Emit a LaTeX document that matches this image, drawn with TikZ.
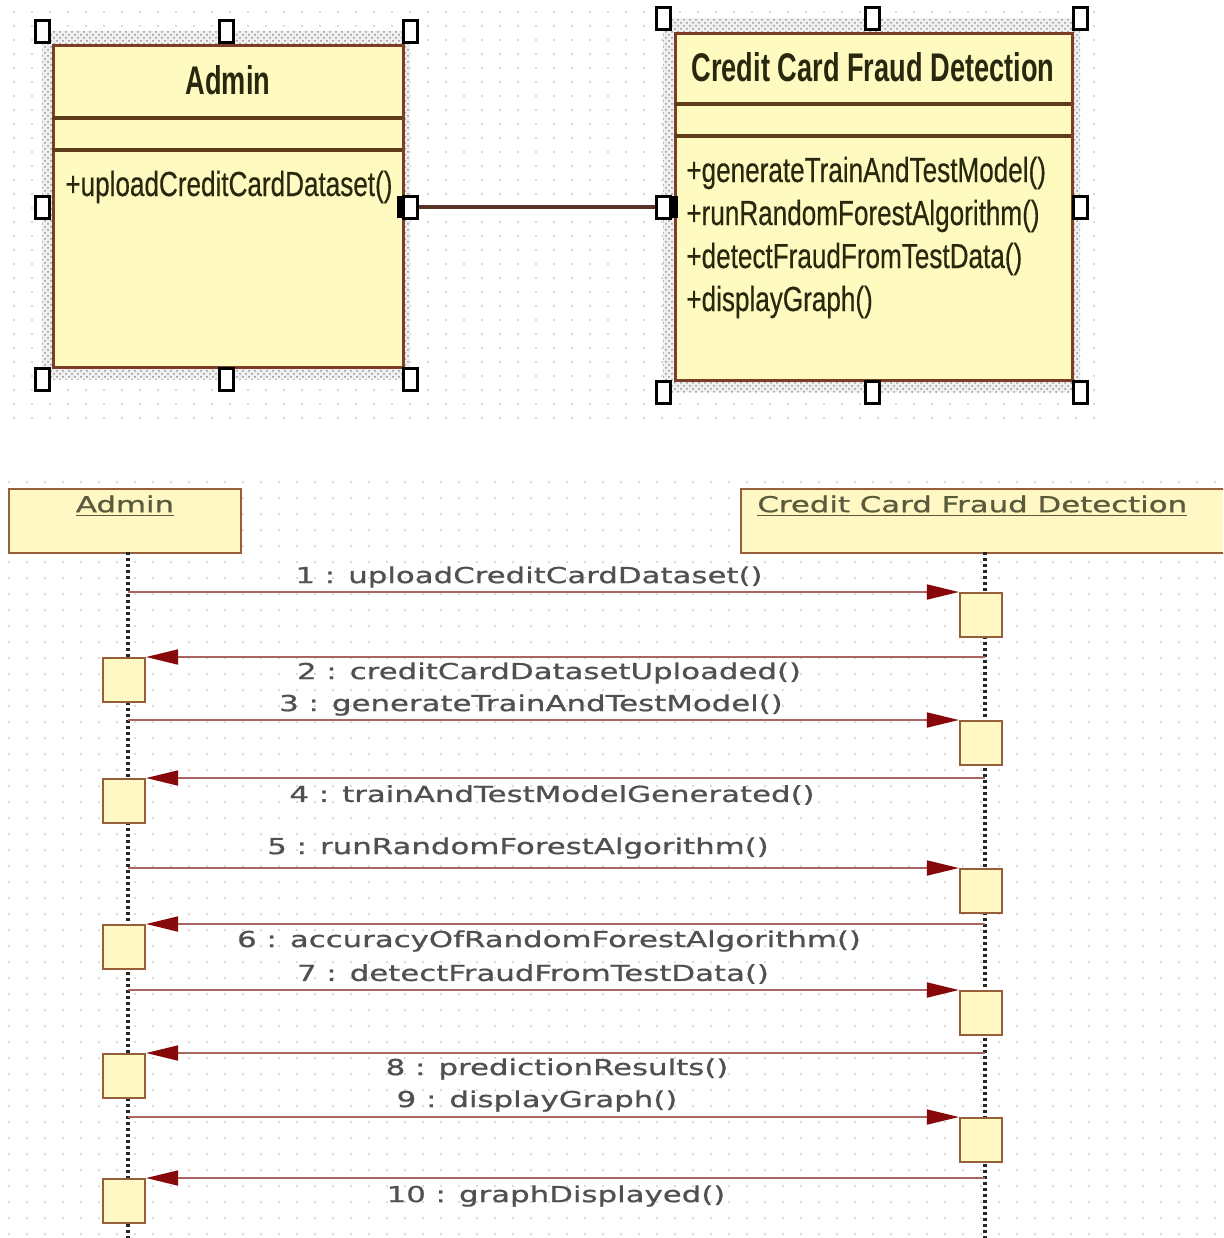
\documentclass[tikz,border=0pt]{standalone}
\usepackage{fontspec}
\usetikzlibrary{arrows.meta,patterns}
\newfontfamily\opsfont[FakeStretch=0.75,FakeBold=0.4]{Liberation Sans}
\newfontfamily\titlefont[FakeStretch=0.68]{Liberation Sans}
\newfontfamily\seqfont[FakeStretch=1.4,FakeBold=0.8]{DejaVu Sans}

\definecolor{clsfill}{RGB}{255,250,192}
\definecolor{clsborder}{RGB}{125,62,40}
\definecolor{cmpline}{RGB}{95,60,25}
\definecolor{clstext}{RGB}{40,40,15}
\definecolor{seqfill}{RGB}{255,248,196}
\definecolor{seqborder}{RGB}{150,95,55}
\definecolor{msgline}{RGB}{170,100,100}
\definecolor{tipred}{RGB}{135,8,8}
\definecolor{lbltext}{RGB}{80,80,80}
\definecolor{headtext}{RGB}{90,90,60}
\definecolor{dotgray}{RGB}{205,205,205}
\definecolor{assoccol}{RGB}{90,50,40}

\tikzset{
  griddot/.style={fill=dotgray},
  selband/.style={pattern=crosshatch dots, pattern color=gray!85, draw=none},
  clsbox/.style={draw=clsborder, fill=clsfill, line width=1.5pt, anchor=north west, inner sep=0pt},
  cmp/.style={draw=cmpline, line width=1.6pt},
  handle/.style={draw=black, fill=white, line width=1.5pt, minimum width=7pt, minimum height=11pt, inner sep=0pt},
  endsq/.style={fill=black, minimum width=6.5pt, minimum height=11pt, inner sep=0pt},
  assoc/.style={draw=assoccol, line width=1.6pt},
  clstitle/.style={font=\titlefont\bfseries\fontsize{20}{22}\selectfont, text=clstext, inner sep=0pt},
  optext/.style={font=\opsfont\fontsize{17.4}{20}\selectfont, text=clstext, anchor=west, inner sep=0pt},
  headbox/.style={draw=seqborder, fill=seqfill, line width=1.1pt, anchor=north west, inner sep=0pt},
  headtxt/.style={font=\seqfont\fontsize{11}{13}\selectfont, text=headtext, inner sep=0pt},
  lifeline/.style={draw=black!85, line width=1.6pt, dash pattern=on 1.5pt off 1.5pt},
  actbox/.style={draw=seqborder, fill=seqfill, line width=1.1pt, minimum width=21pt, minimum height=22pt, anchor=north, inner sep=0pt},
  msg/.style={draw=msgline, line width=0.9pt, -{Triangle[length=16pt,width=7.5pt,color=tipred]}},
  lbl/.style={font=\seqfont\fontsize{11}{13}\selectfont, text=lbltext, inner sep=0pt}
}

\begin{document}
\begin{tikzpicture}[x=0.5pt,y=-0.5pt]
\clip (0,0) rectangle (1223,1238);
\fill[white] (0,0) rectangle (1223,1238);

% dotted drawing grid
\foreach \x in {14,32,...,1106}
  \foreach \y in {12,26,...,424}
    \fill[griddot] (\x,\y) circle (0.55pt);
\foreach \x in {9,27,...,1223}
  \foreach \y in {482,498,...,1238}
    \fill[griddot] (\x,\y) circle (0.55pt);

% ---------------- class diagram ----------------
% selection bands
\fill[gray!12] (42,31) rectangle (410,379);
\path[selband] (42,31) rectangle (410,379);
\fill[gray!12] (663,18) rectangle (1080,392);
\path[selband] (663,18) rectangle (1080,392);

% Admin class
\node[clsbox, minimum width=175pt, minimum height=161pt] (adminCls) at (52,44) {};
\draw[cmp] (52,118) -- (402,118);
\draw[cmp] (52,150) -- (402,150);
\node[clstitle] (adminTitle) at (228,80) {Admin};
\node[optext] (adminOp) at (65,187) {+uploadCreditCardDataset()};

% Credit Card Fraud Detection class
\node[clsbox, minimum width=198.5pt, minimum height=173.5pt] (ccfdCls) at (674,32) {};
\draw[cmp] (674,104) -- (1071,104);
\draw[cmp] (674,136) -- (1071,136);
\node[clstitle] (ccfdTitle) at (873,67) {Credit Card Fraud Detection};
\node[optext] (op1) at (686,173) {+generateTrainAndTestModel()};
\node[optext] (op2) at (686,216) {+runRandomForestAlgorithm()};
\node[optext] (op3) at (686,259) {+detectFraudFromTestData()};
\node[optext] (op4) at (686,302) {+displayGraph()};

% association ends
\node[endsq] (endA) at (403,207) {};
\node[endsq] (endC) at (671,207) {};

% selection handles
\node[handle] (hAnw) at (42,31) {};
\node[handle] (hAn)  at (226,31) {};
\node[handle] (hAne) at (410,31) {};
\node[handle] (hAw)  at (42,207) {};
\node[handle] (hAe)  at (410,207) {};
\node[handle] (hAsw) at (42,379) {};
\node[handle] (hAs)  at (226,379) {};
\node[handle] (hAse) at (410,379) {};
\node[handle] (hCnw) at (663,18) {};
\node[handle] (hCn)  at (872,18) {};
\node[handle] (hCne) at (1080,18) {};
\node[handle] (hCw)  at (663,207) {};
\node[handle] (hCe)  at (1080,207) {};
\node[handle] (hCsw) at (663,392) {};
\node[handle] (hCs)  at (872,392) {};
\node[handle] (hCse) at (1080,392) {};

\draw[assoc] (hAe) -- (hCw);

% ---------------- sequence diagram ----------------
\node[headbox, minimum width=116pt, minimum height=32pt] (headA) at (8,488) {};
\node[headbox, minimum width=250pt, minimum height=32pt] (headC) at (740,488) {};
\node[headtxt] (headAtxt) at (125,506) {\underline{Admin}};
\node[headtxt, anchor=west] (headCtxt) at (757,506) {\underline{Credit Card Fraud Detection}};

\coordinate (lifeA) at (128,552);
\coordinate (lifeC) at (985,552);
\coordinate (lifeAend) at (128,1238);
\coordinate (lifeCend) at (985,1238);
\draw[lifeline] (lifeA) -- (lifeAend);
\draw[lifeline] (lifeC) -- (lifeCend);

% activation boxes
\node[actbox] (act1)  at (981,592)  {};
\node[actbox] (act2)  at (124,657)  {};
\node[actbox] (act3)  at (981,720)  {};
\node[actbox] (act4)  at (124,778)  {};
\node[actbox] (act5)  at (981,868)  {};
\node[actbox] (act6)  at (124,924)  {};
\node[actbox] (act7)  at (981,990)  {};
\node[actbox] (act8)  at (124,1053) {};
\node[actbox] (act9)  at (981,1117) {};
\node[actbox] (act10) at (124,1178) {};

% messages
\draw[msg] (lifeA |- act1.north west) -- (act1.north west);
\draw[msg] (lifeC |- act2.north east) -- (act2.north east);
\draw[msg] (lifeA |- act3.north west) -- (act3.north west);
\draw[msg] (lifeC |- act4.north east) -- (act4.north east);
\draw[msg] (lifeA |- act5.north west) -- (act5.north west);
\draw[msg] (lifeC |- act6.north east) -- (act6.north east);
\draw[msg] (lifeA |- act7.north west) -- (act7.north west);
\draw[msg] (lifeC |- act8.north east) -- (act8.north east);
\draw[msg] (lifeA |- act9.north west) -- (act9.north west);
\draw[msg] (lifeC |- act10.north east) -- (act10.north east);

% message labels
\node[lbl] (lbl1)  at (529,577)  {1 : uploadCreditCardDataset()};
\node[lbl] (lbl2)  at (549,673)  {2 : creditCardDatasetUploaded()};
\node[lbl] (lbl3)  at (531,705)  {3 : generateTrainAndTestModel()};
\node[lbl] (lbl4)  at (552,795)  {4 : trainAndTestModelGenerated()};
\node[lbl] (lbl5)  at (518,848)  {5 : runRandomForestAlgorithm()};
\node[lbl] (lbl6)  at (549,941)  {6 : accuracyOfRandomForestAlgorithm()};
\node[lbl] (lbl7)  at (533,974)  {7 : detectFraudFromTestData()};
\node[lbl] (lbl8)  at (557,1069) {8 : predictionResults()};
\node[lbl] (lbl9)  at (537,1101) {9 : displayGraph()};
\node[lbl] (lbl10) at (556,1196) {10 : graphDisplayed()};
\end{tikzpicture}
\end{document}
